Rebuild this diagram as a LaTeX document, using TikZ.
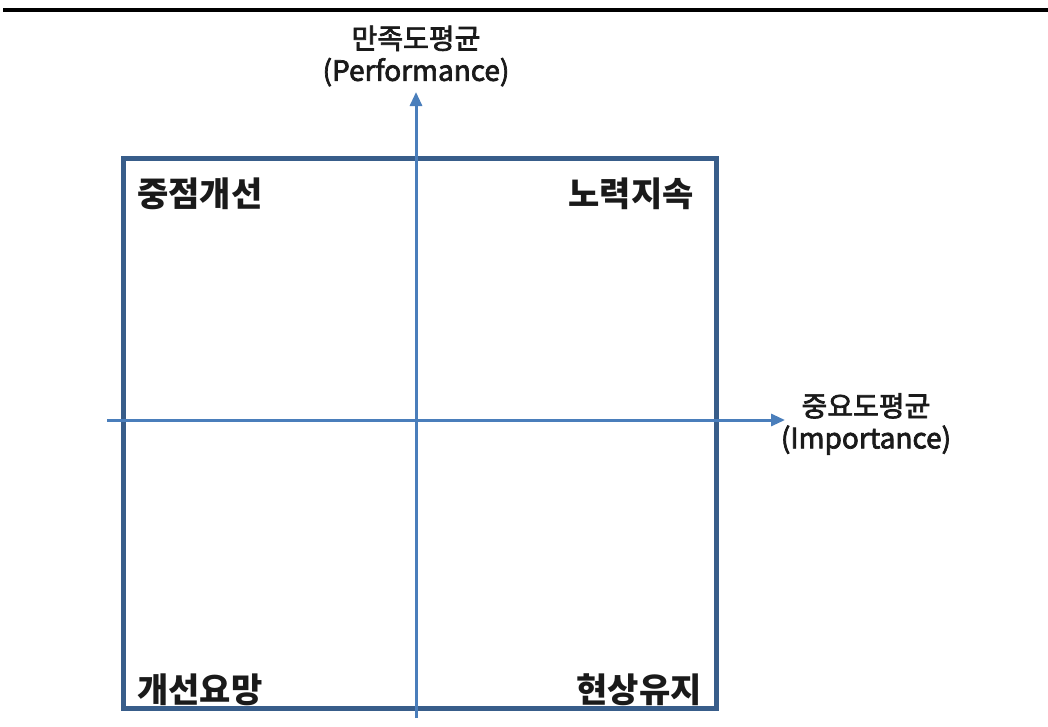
\documentclass[tikz,border=0pt]{standalone}
\usepackage{fontspec}
\setmainfont{Noto Sans CJK KR}
\newfontfamily\axfont[FakeBold=2.5]{Noto Sans CJK KR}
\usetikzlibrary{arrows.meta}
\definecolor{boxblue}{HTML}{385D8A}
\definecolor{axisblue}{HTML}{4A7EBB}
\definecolor{txt}{HTML}{1A1A1A}
\tikzset{
  axisline/.style={draw=axisblue, line width=3pt, -{Triangle[length=14pt,width=12pt]}},
  quad/.style={font=\fontsize{34}{36}\selectfont\bfseries, text=txt, inner sep=0pt},
  axlabel/.style={font=\axfont\fontsize{28}{32}\selectfont, text=txt, align=center, inner sep=0pt},
}
\begin{document}
\begin{tikzpicture}[x=1pt,y=-1pt]
\useasboundingbox (0,0) rectangle (1048,726);
\fill[white] (0,0) rectangle (1048,726);
\coordinate (tl) at (3,10);
\coordinate (tr) at (1048,10);
\draw[black, line width=4pt] (tl) -- (tr);
\node[draw=boxblue, line width=5pt, minimum width=593pt, minimum height=550pt, inner sep=0pt] (box) at (419.5,433) {};
\coordinate (vbot) at (416,718);
\coordinate (vtop) at (416,92);
\coordinate (hl) at (107,420);
\coordinate (hr) at (785,420);
\draw[axisline] (vbot) -- (vtop);
\draw[axisline] (hl) -- (hr);
\node[axlabel] (perf) at (416,56) {만족도평균\\(Performance)};
\node[axlabel] (imp) at (866,424) {중요도평균\\(Importance)};
\node[quad, anchor=west] (q1) at (137,194) {중점개선};
\node[quad, anchor=east] (q2) at (694,194) {노력지속};
\node[quad, anchor=west] (q3) at (137,690) {개선요망};
\node[quad, anchor=east] (q4) at (702,690) {현상유지};
\end{tikzpicture}
\end{document}
